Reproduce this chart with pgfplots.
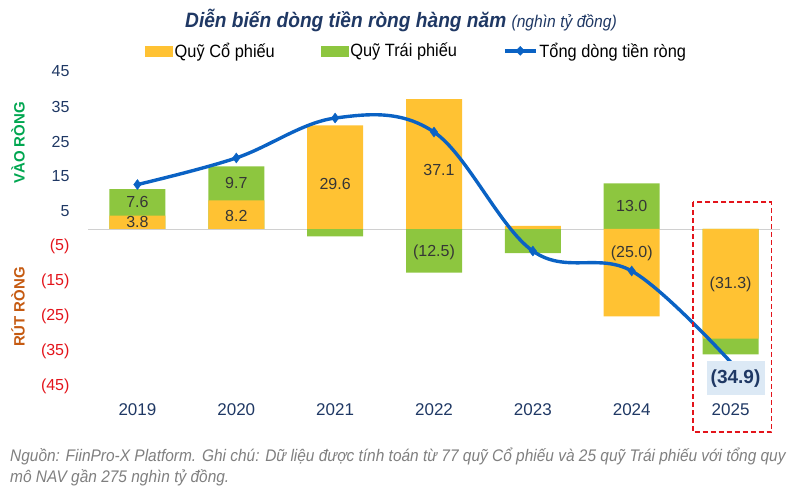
\documentclass[border=0pt]{standalone}
\usepackage{fontspec}
\setmainfont{Liberation Sans}
\newfontfamily\narrow{Liberation Sans}[FakeStretch=0.92]
\usepackage{pgfplots}
\pgfplotsset{compat=1.18}

\definecolor{yellowbar}{HTML}{FFC233}
\definecolor{greenbar}{HTML}{8DC63F}
\definecolor{blueline}{HTML}{0A62C4}
\definecolor{navy}{HTML}{1F3864}
\definecolor{negred}{HTML}{E3141B}
\definecolor{vao}{HTML}{00A650}
\definecolor{rut}{HTML}{C55A11}
\definecolor{foot}{HTML}{7F7F7F}
\definecolor{lblgray}{HTML}{363636}
\definecolor{zeroline}{HTML}{D0D0D0}
\definecolor{boxfill}{HTML}{DCE9F5}

\begin{document}
\begin{tikzpicture}
\path[use as bounding box] (0,0) rectangle (800pt,489pt);

% title
\node[anchor=center, text=navy] at (401pt,469pt)
  {\narrow\fontsize{20.8}{24}\selectfont\bfseries\itshape Diễn biến dòng tiền ròng hàng năm
   \mdseries\fontsize{17}{20}\selectfont (nghìn tỷ đồng)};

% side labels
\node[rotate=90, text=vao, font=\fontsize{15}{18}\selectfont\bfseries] at (18pt,346pt) {VÀO RÒNG};
\node[rotate=90, text=rut, font=\fontsize{15}{18}\selectfont\bfseries] at (18pt,182pt) {RÚT RÒNG};

\begin{axis}[
  at={(88pt,85pt)}, anchor=south west,
  scale only axis,
  width=692pt, height=332.5pt,
  xmin=-0.5, xmax=6.5,
  ymin=-50, ymax=45,
  enlargelimits=false,
  clip=false,
  axis line style={draw=none},
  major tick length=0pt,
  xtick={0,...,6},
  xticklabels={2019,2020,2021,2022,2023,2024,2025},
  xticklabel style={anchor=center, yshift=-6pt, text=navy, font=\fontsize{17}{17}\selectfont},
  ytick={-45,-35,-25,-15,-5,5,15,25,35,45},
  yticklabels={{\color{negred}(45)},{\color{negred}(35)},{\color{negred}(25)},{\color{negred}(15)},{\color{negred}(5)},5,15,25,35,45},
  yticklabel style={anchor=east, xshift=-15pt, text=navy, font=\fontsize{16}{16}\selectfont},
  extra y ticks={0},
  extra y tick labels={},
  extra y tick style={grid=major, major grid style={draw=zeroline, line width=0.9pt}},
  legend style={
    at={(0.475,1.062)}, anchor=center, draw=none, fill=none,
    legend columns=3,
    font=\narrow\fontsize{17.8}{20}\selectfont,
    /tikz/every even column/.append style={column sep=44pt},
    legend cell align=left,
  },
]

% Quy Trai phieu (drawn as cumulative extent, yellow covers the inner part)
\addplot[ybar, bar width=56pt, bar shift=0pt, fill=greenbar, draw=none, forget plot]
  coordinates {(0,11.4) (1,17.9) (2,-2.1) (3,-12.5) (4,-6.9) (5,13.0) (6,-35.8)};
% Quy Co phieu
\addplot[ybar, bar width=56pt, bar shift=0pt, fill=yellowbar, draw=none, forget plot]
  coordinates {(0,3.8) (1,8.2) (2,29.6) (3,37.1) (4,0.9) (5,-25.0) (6,-31.3)};

% Tong dong tien rong
\addplot[blueline, line width=3.4pt, smooth, tension=0.6,
  mark=diamond*, mark size=5pt, mark indices={1,2,3,4,5,6},
  mark options={fill=blueline, draw=blueline, line width=0.4pt}, forget plot]
  coordinates {(0,12.7) (1,20.3) (2,31.7) (3,27.7) (4,-6.3) (5,-12.0) (6,-38.0)};

% data labels
\addplot[only marks, mark=none, forget plot,
  nodes near coords, point meta=explicit symbolic,
  nodes near coords style={anchor=center, text=lblgray, font=\fontsize{16}{16}\selectfont}]
  table[meta=label] {
x y label
0 2.0 3.8
0 7.7 7.6
1 3.8 8.2
1 13.1 9.7
2 12.9 29.6
3.05 16.9 37.1
3 -6.6 (12.5)
5 6.6 13.0
5 -7.0 (25.0)
6 -15.7 (31.3)
};

\addlegendimage{area legend, legend image code/.code={\fill[yellowbar] (0pt,-5pt) rectangle (27pt,5pt);}}
\addlegendentry{Quỹ Cổ phiếu}
\addlegendimage{area legend, legend image code/.code={\fill[greenbar] (0pt,-5pt) rectangle (27pt,5pt);}}
\addlegendentry{Quỹ Trái phiếu}
\addlegendimage{legend image code/.code={
  \draw[blueline, line width=3.4pt] (0pt,0pt) -- (31pt,0pt);
  \fill[blueline] (15.5pt,-4.5pt) -- (20pt,0pt) -- (15.5pt,4.5pt) -- (11pt,0pt) -- cycle;}}
\addlegendentry{Tổng dòng tiền ròng}

% highlight 2025
\draw[negred, line width=1.8pt, dash pattern=on 5pt off 3pt]
  (axis cs:5.616,7.7) rectangle (axis cs:6.414,-58);
\node[fill=boxfill, text=navy, minimum width=58pt, minimum height=34pt, inner sep=0pt,
  font=\fontsize{19}{19}\selectfont\bfseries] at (axis cs:6.05,-42.6) {(34.9)};
\end{axis}

% footnote
\node[anchor=north west, align=left, text=foot, inner sep=0pt,
  font=\narrow\fontsize{16.8}{21}\selectfont\itshape] at (10pt,41pt)
  {Nguồn: FiinPro-X Platform. Ghi chú: Dữ liệu được tính toán từ 77 quỹ Cổ phiếu và 25 quỹ Trái phiếu với tổng quy\\
   mô NAV gần 275 nghìn tỷ đồng.};
\end{tikzpicture}
\end{document}
